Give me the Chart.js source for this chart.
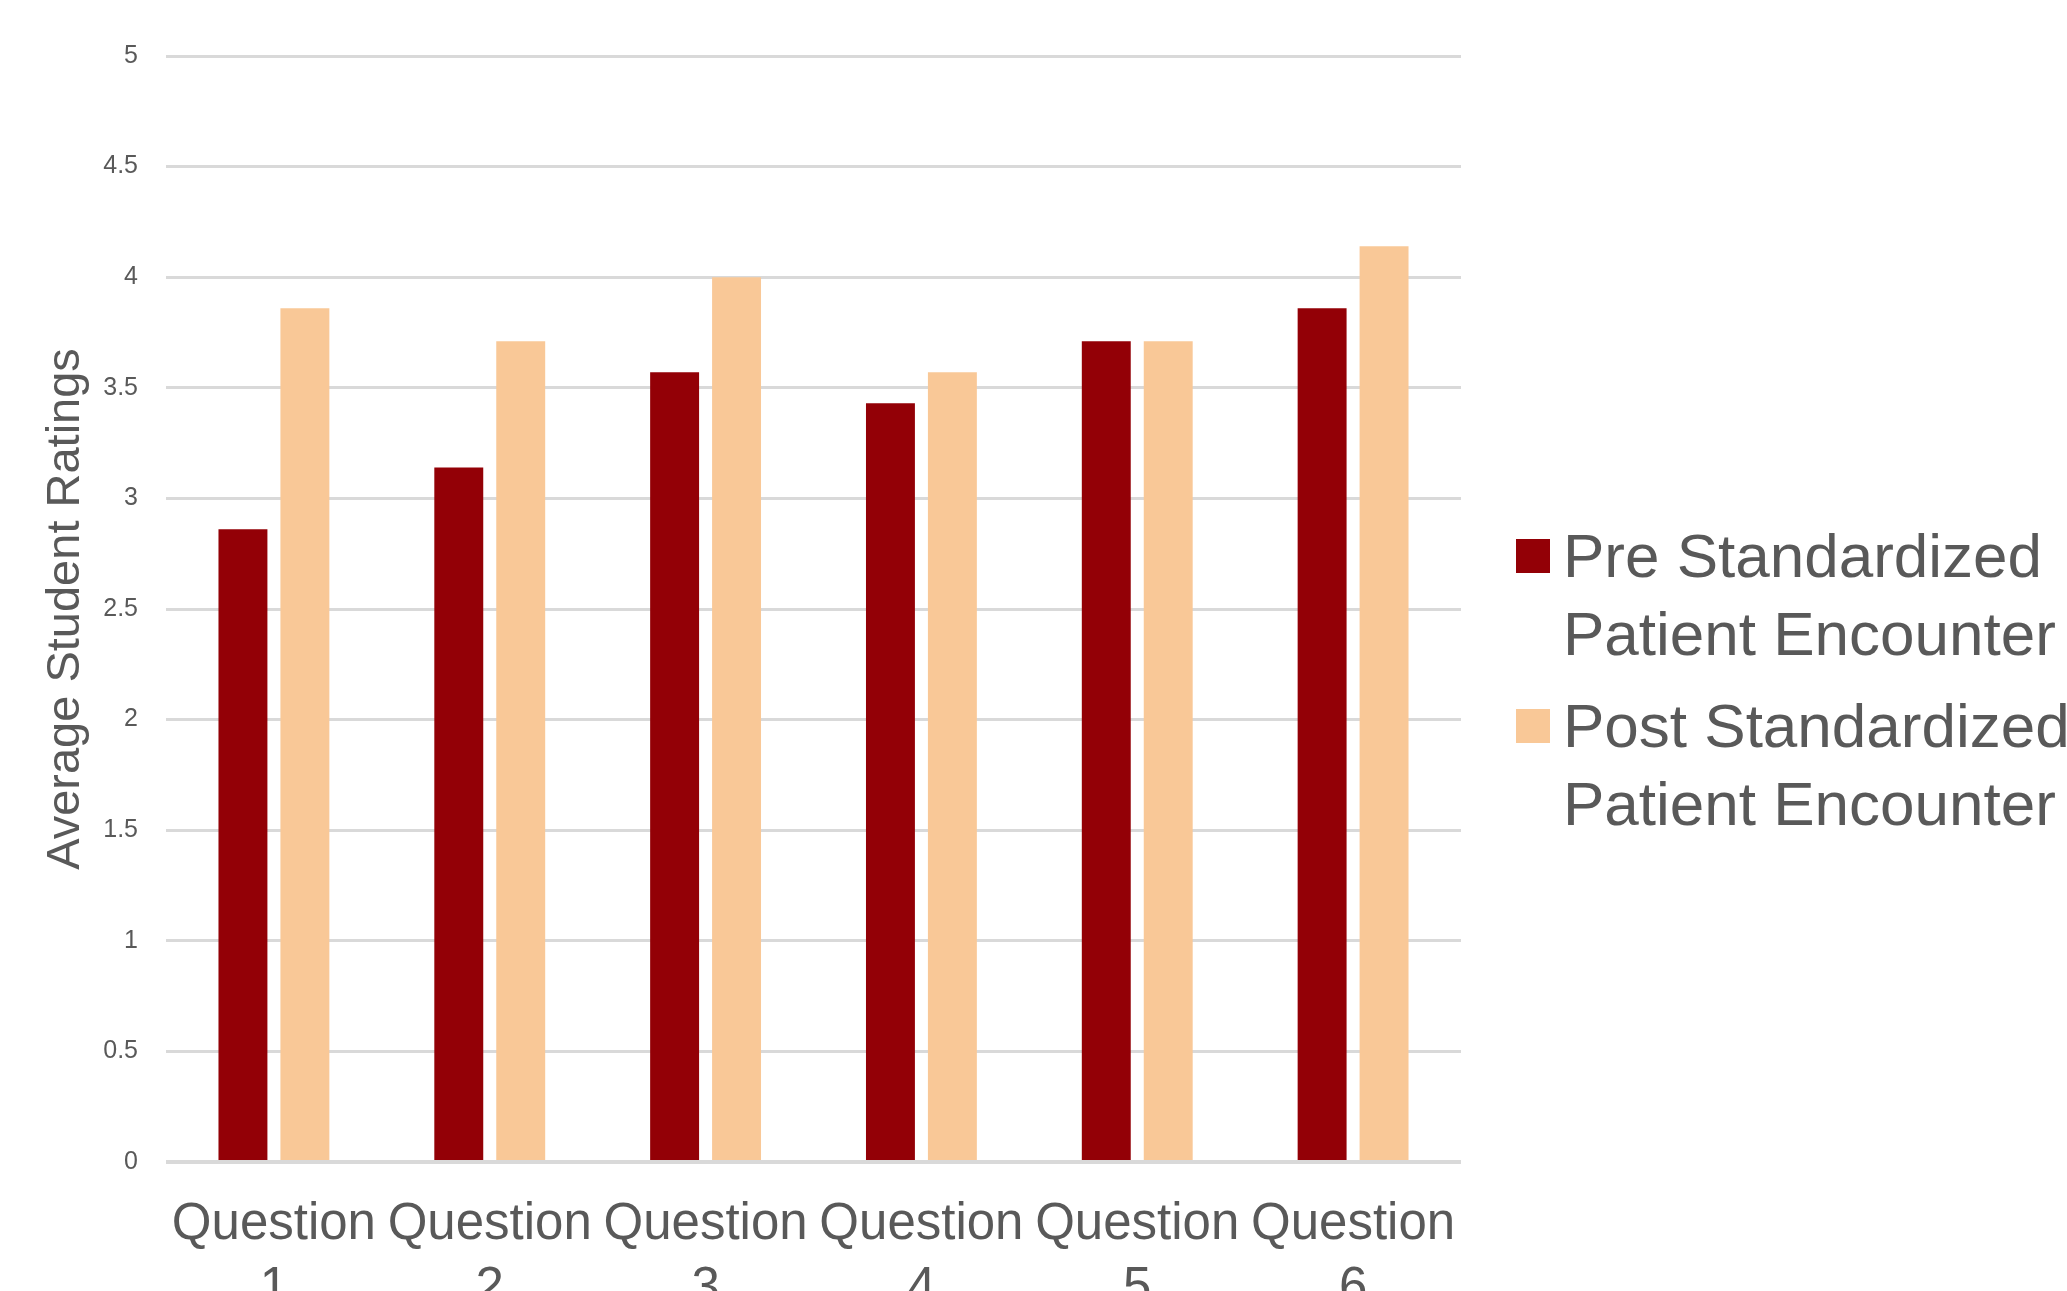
<!DOCTYPE html>
<html>
<head>
<meta charset="utf-8">
<script src="https://cdn.jsdelivr.net/npm/chart.js@4/dist/chart.umd.min.js"></script>
<style>
  html, body { margin: 0; padding: 0; background: #fff; overflow: hidden; }
  #wrap { width: 2067px; height: 1291px; position: relative; }
</style>
</head>
<body>
<div id="wrap"><canvas id="c"></canvas></div>
<script>
// Survey questions (two-line category labels)
const questions = [
  ['Question', '1'], ['Question', '2'], ['Question', '3'],
  ['Question', '4'], ['Question', '5'], ['Question', '6']
];

// Average student ratings before and after the encounter
const preRatings  = [2.86, 3.14, 3.57, 3.43, 3.71, 3.86];
const postRatings = [3.86, 3.71, 4.00, 3.57, 3.71, 4.14];

// Series names, each split over two legend lines
const seriesNames = [
  ['Pre Standardized', 'Patient Encounter'],
  ['Post Standardized', 'Patient Encounter']
];

// Rating axis tick labels, from 0 up to 5 in steps of 0.5
const ratingTicks = ['0', '0.5', '1', '1.5', '2', '2.5', '3', '3.5', '4', '4.5', '5'];
const ratingStep = 0.5;

const TEXT = '#595959';
const FONT = '"Liberation Sans", Arial, Helvetica, sans-serif';
const seriesColors = ['#930006', '#F9C897'];

// Legend drawn at the right of the plot, one square per series
const sideLegend = {
  id: 'sideLegend',
  afterDraw(chart) {
    const ctx = chart.ctx;
    const area = chart.chartArea;
    const boxX = area.right + 55;
    const textX = boxX + 47;
    const firstTop = 539;
    const itemGap = 170;
    const lineGap = 78;
    const box = 34;
    ctx.save();
    ctx.font = '62px ' + FONT;
    ctx.textBaseline = 'alphabetic';
    ctx.textAlign = 'left';
    chart.data.datasets.forEach((ds, i) => {
      const top = firstTop + i * itemGap;
      ctx.fillStyle = ds.backgroundColor;
      ctx.fillRect(boxX, top, box, box);
      ctx.fillStyle = TEXT;
      const lines = Array.isArray(ds.label) ? ds.label : [ds.label];
      lines.forEach((ln, j) => {
        ctx.fillText(ln, textX, top + 38 + j * lineGap);
      });
    });
    ctx.restore();
  }
};

new Chart(document.getElementById('c'), {
  type: 'bar',
  data: {
    labels: questions,
    datasets: [
      { label: seriesNames[0], data: preRatings, backgroundColor: seriesColors[0] },
      { label: seriesNames[1], data: postRatings, backgroundColor: seriesColors[1] }
    ]
  },
  options: {
    responsive: true,
    maintainAspectRatio: false,
    animation: false,
    events: [],
    categoryPercentage: 0.574,
    barPercentage: 0.79,
    layout: { padding: { top: 56, right: 606, bottom: 0, left: 0 } },
    plugins: {
      legend: { display: false },
      tooltip: { enabled: false }
    },
    scales: {
      x: {
        grid: { display: false, drawTicks: false },
        border: { display: false },
        ticks: {
          color: TEXT,
          font: { family: FONT, size: 51, lineHeight: 1.25 },
          padding: 31,
          maxRotation: 0,
          minRotation: 0,
          autoSkip: false
        },
        afterFit(scale) { scale.height = 129; }
      },
      y: {
        min: Number(ratingTicks[0]),
        max: Number(ratingTicks[ratingTicks.length - 1]),
        ticks: {
          stepSize: ratingStep,
          color: TEXT,
          font: { family: FONT, size: 25 },
          padding: 28,
          callback: (value, index) => ratingTicks[index]
        },
        grid: {
          color: '#d9d9d9',
          lineWidth: ctx => (ctx.tick && ctx.tick.value === 0 ? 4 : 3),
          drawTicks: false
        },
        border: { display: false },
        title: {
          display: true,
          text: 'Average Student Ratings',
          color: TEXT,
          font: { family: FONT, size: 47, lineHeight: 1.2 },
          padding: { top: 38, bottom: 0 }
        },
        afterFit(scale) { scale.width = 166; }
      }
    }
  },
  plugins: [sideLegend]
});
</script>
</body>
</html>
